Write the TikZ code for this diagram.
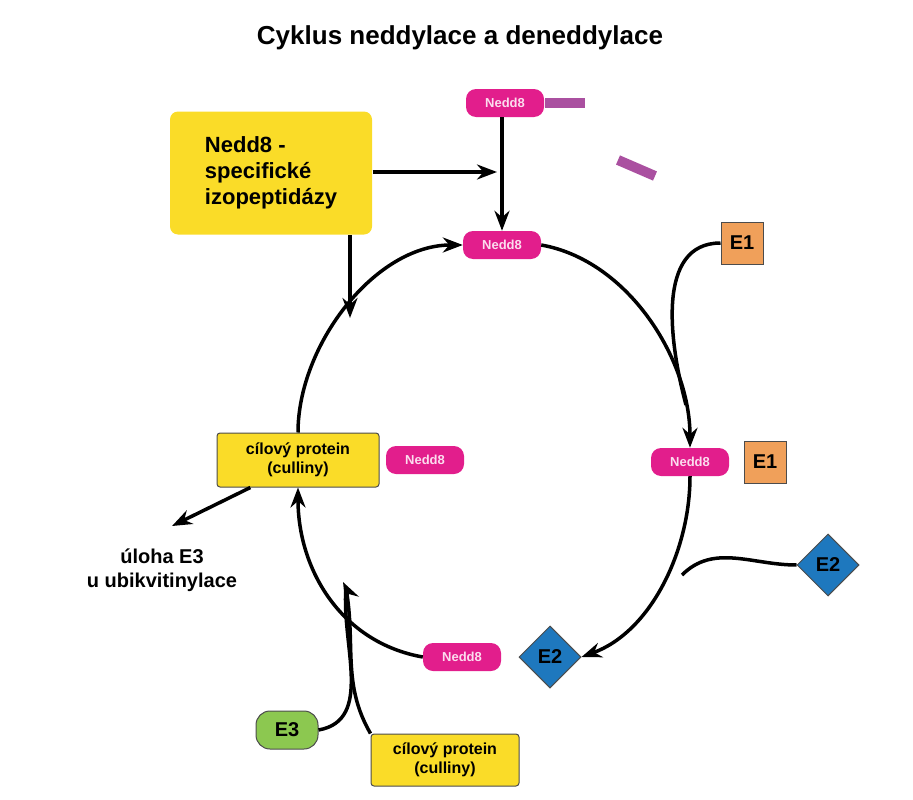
\documentclass[tikz,border=0pt]{standalone}
\usepackage{fontspec}
\setmainfont{Liberation Sans}
\usetikzlibrary{shapes.geometric,arrows.meta}
\definecolor{nedd}{RGB}{226,30,140}
\definecolor{bar}{RGB}{170,80,160}
\definecolor{yel}{RGB}{250,220,40}
\definecolor{ora}{RGB}{240,160,90}
\definecolor{blu}{RGB}{30,120,190}
\definecolor{gre}{RGB}{140,200,80}
\tikzset{
  pill/.style={fill=nedd,rounded corners=10pt,minimum width=78pt,minimum height=28pt,text=white!85!nedd,font=\bfseries\fontsize{13}{15}\selectfont},
  ybox/.style={fill=yel,draw=black!70,line width=1pt,rounded corners=3pt,align=center,font=\bfseries\fontsize{16}{19}\selectfont},
  sq/.style={fill=ora,draw=black!70,line width=1pt,minimum size=42pt,font=\bfseries\fontsize{20}{24}\selectfont},
  dia/.style={diamond,fill=blu,draw=black!70,line width=1pt,minimum size=62pt,inner sep=0pt,font=\bfseries\fontsize{20}{24}\selectfont},
  arr/.style={-{Stealth[length=20pt,width=15pt]},line width=3.5pt},
  ln/.style={line width=3.5pt},
}
\begin{document}
\begin{tikzpicture}[x=1pt,y=-1pt]
\useasboundingbox (0,0) rectangle (913,800);

\node[font=\bfseries\fontsize{26}{30}\selectfont] (title) at (460,38) {Cyklus neddylace a deneddylace};

% volny Nedd8
\node[pill] (ntop) at (505,103) {Nedd8};
\draw[bar,line width=10pt] (545,103) -- (585,103);
\draw[bar,line width=10pt] (618,160) -- (655,176);
\node[pill] (nmid) at (502,245) {Nedd8};

\node[ybox,fill=yel,draw=none,rounded corners=8pt,minimum width=202pt,minimum height=123pt,align=left,font=\bfseries\fontsize{22}{26}\selectfont] (izo) at (271,173) {Nedd8 -\\specifické\\izopeptidázy};
\coordinate (j) at (497,172);
\draw[arr] (izo.east |- j) -- (j);
\draw[arr] (502,117) -- (nmid.north);
\draw[arr] (350,235) -- (350,318);

% cyklus
\node[ybox,minimum width=162pt,minimum height=54pt] (cil) at (298,460) {cílový protein\\(culliny)};
\node[pill] (ncil) at (425,460) {Nedd8};
\node[pill] (ne1) at (690,462) {Nedd8};
\node[sq] (e1b) at (765,462) {E1};
\node[pill] (ne2) at (462,657) {Nedd8};
\node[dia] (e2b) at (550,657) {E2};

\draw[arr] (cil.north) to[out=90,in=180,looseness=0.9] (nmid.west);
\draw[arr] (nmid.east) to[out=-10,in=90,looseness=0.9] (ne1.north);
\draw[arr] (ne1.south) to[out=-90,in=20,looseness=0.9] (e2b.east);
\draw[arr] (ne2.west) to[out=170,in=-90,looseness=1] (cil.south);

% enzymy
\node[sq] (e1a) at (742,243) {E1};
\coordinate (m1) at (686,405);
\draw[ln] (e1a.west) to[out=180,in=105] (m1);
\node[dia] (e2a) at (828,565) {E2};
\coordinate (m2) at (682,575);
\draw[ln] (e2a.west) to[out=180,in=45] (m2);

\node[fill=gre,draw=black!70,line width=1pt,rounded corners=14pt,minimum width=62pt,minimum height=38pt,font=\bfseries\fontsize{20}{24}\selectfont] (e3) at (287,730) {E3};
\node[ybox,minimum width=148pt,minimum height=52pt] (cil2) at (445,760) {cílový protein\\(culliny)};
\coordinate (k) at (346,588);
\draw[ln] (e3.east) to[out=10,in=-95] (k);
\draw[ln] (cil2.north west) to[out=120,in=-80] (k);
\draw[arr] (k) -- (343,582);

\coordinate (u) at (172,526);
\draw[arr] (cil.210) -- (u);
\node[font=\bfseries\fontsize{20}{24}\selectfont,align=center] (uloha) at (162,570) {úloha E3\\u ubikvitinylace};
\end{tikzpicture}
\end{document}
